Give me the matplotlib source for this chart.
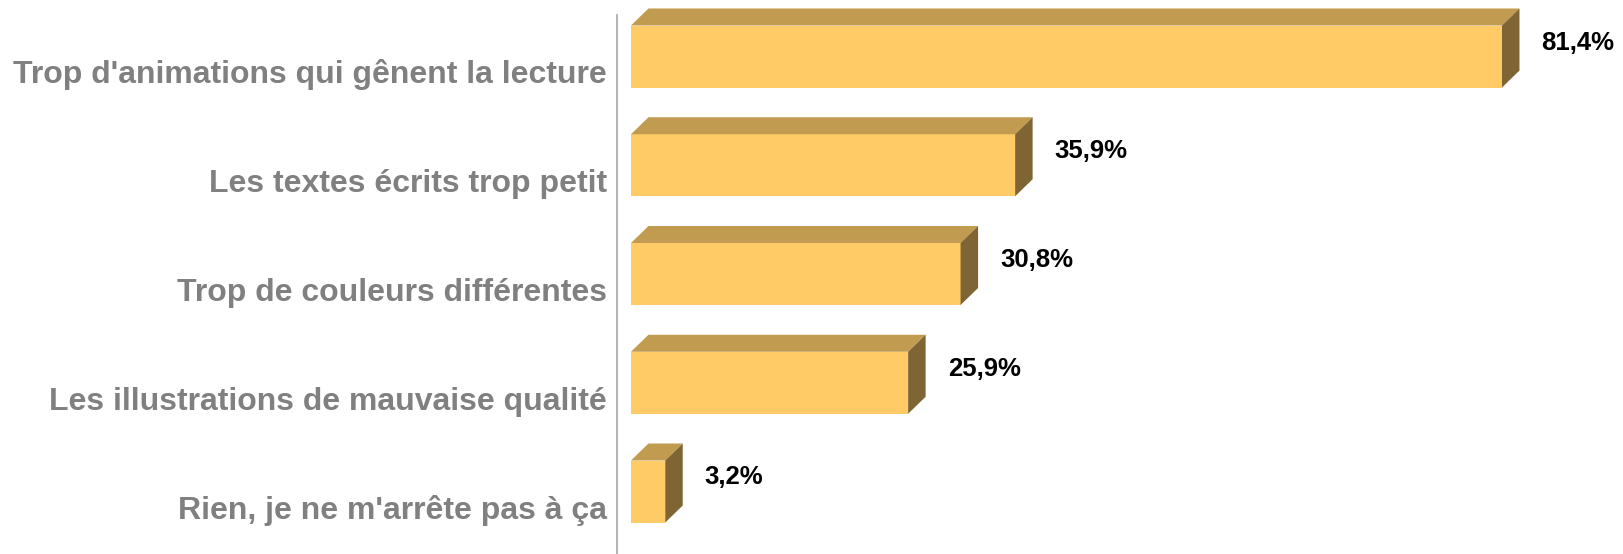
import matplotlib
matplotlib.use("Agg")
import matplotlib.pyplot as plt
from matplotlib import font_manager as fm
from matplotlib.patches import Polygon

categories = [
    "Trop d'animations qui gênent la lecture",
    "Les textes écrits trop petit",
    "Trop de couleurs différentes",
    "Les illustrations de mauvaise qualité",
    "Rien, je ne m'arrête pas à ça",
]
values = [81.4, 35.9, 30.8, 25.9, 3.2]
value_labels = ["81,4%", "35,9%", "30,8%", "25,9%", "3,2%"]

W, H, DPI = 1624, 554, 100
fig = plt.figure(figsize=(W / DPI, H / DPI), dpi=DPI)

# pixel geometry
ax_left_px, ax_top_px = 617, 15
px_per_unit_x = 10.7
px_per_row = 108.75
zero_px = 631
first_center_px = 56.5
bar_h_px = 62
dx_px, dy_px = 17.5, 17

ax_w_px = W - ax_left_px
ax_h_px = H - ax_top_px
ax = fig.add_axes([ax_left_px / W, 0, ax_w_px / W, ax_h_px / H])
x0 = -(zero_px - ax_left_px) / px_per_unit_x
ax.set_xlim(x0, x0 + ax_w_px / px_per_unit_x)
ytop = -(first_center_px - ax_top_px) / px_per_row
ax.set_ylim(ytop + ax_h_px / px_per_row, ytop)

dx = dx_px / px_per_unit_x
dy = dy_px / px_per_row
bh = bar_h_px / px_per_row

front_c = "#FECB66"
top_c = "#C19B50"
side_c = "#806534"

ypos = list(range(len(values)))
bars = ax.barh(ypos, values, height=bh, color=front_c, edgecolor="none", zorder=3)
for b in bars:
    b.set_clip_on(False)
for i, v in zip(ypos, values):
    yt = i - bh / 2
    yb = i + bh / 2
    top = Polygon([(0, yt), (dx, yt - dy), (v + dx, yt - dy), (v, yt)],
                  closed=True, facecolor=top_c, edgecolor="none", zorder=3,
                  clip_on=False)
    side = Polygon([(v, yt), (v + dx, yt - dy), (v + dx, yb - dy), (v, yb)],
                   closed=True, facecolor=side_c, edgecolor="none", zorder=3,
                   clip_on=False)
    ax.add_patch(top)
    ax.add_patch(side)

# fonts
def has_font(name):
    try:
        fm.findfont(fm.FontProperties(family=name), fallback_to_default=False)
        return True
    except Exception:
        return False

if has_font("Liberation Sans Narrow"):
    cat_family, cat_size = "Liberation Sans Narrow", 27.5
else:
    cat_family, cat_size = "Liberation Sans", 23

for i, c in zip(ypos, categories):
    ax.text(x0 - 10 / px_per_unit_x, i + 27 / px_per_row, c, ha="right",
            va="baseline", fontsize=cat_size, fontweight="bold",
            family=cat_family, color="#808080", clip_on=False)

for i, v, lab in zip(ypos, values, value_labels):
    ax.text(v + dx + 22 / px_per_unit_x, i - 7 / px_per_row, lab, ha="left",
            va="baseline", fontsize=18.5, fontweight="bold",
            family="Liberation Sans", color="black")

for s in ["top", "right", "bottom"]:
    ax.spines[s].set_visible(False)
ax.spines["left"].set_color("#A6A6A6")
ax.spines["left"].set_linewidth(1.2)
ax.set_xticks([])
ax.set_yticks([])
ax.patch.set_alpha(0)

fig.savefig("out.png", dpi=DPI)
